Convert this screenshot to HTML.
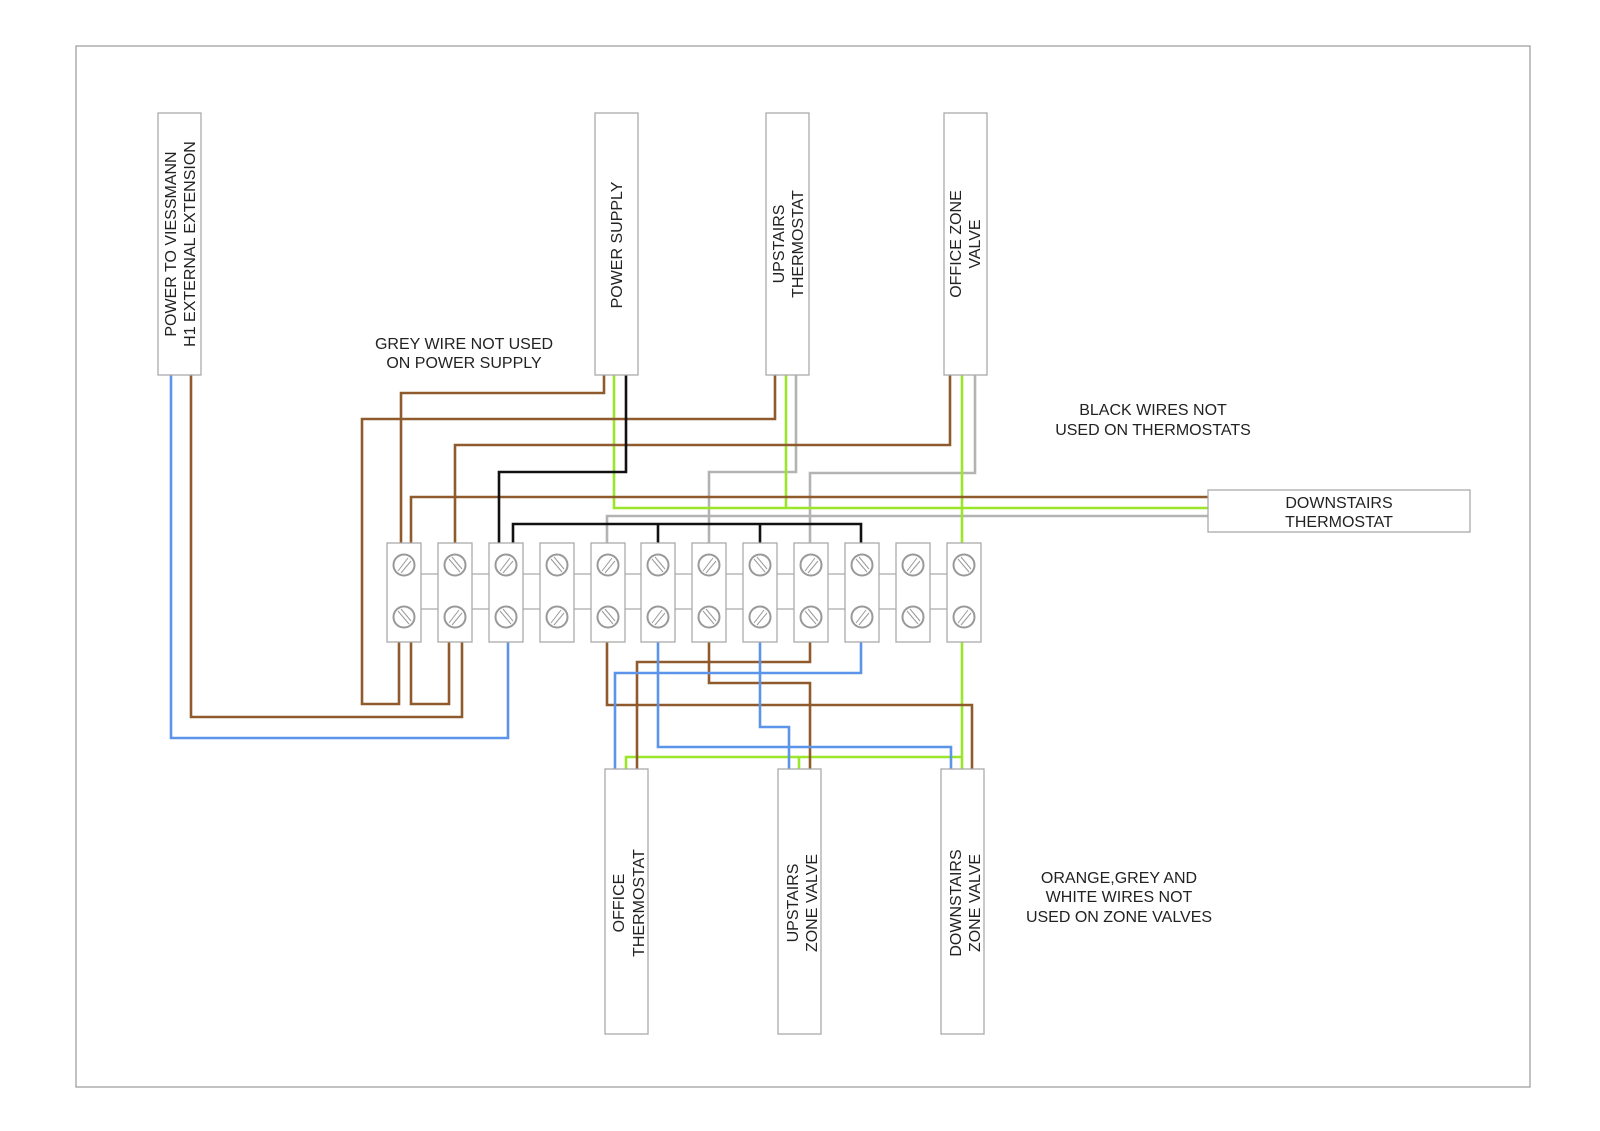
<!DOCTYPE html>
<html><head><meta charset="utf-8"><style>
html,body{margin:0;padding:0;background:#fff;}
svg{display:block;}
text{font-family:"Liberation Sans",sans-serif;font-size:16px;fill:#222;}
</style></head><body>
<svg width="1600" height="1131" viewBox="0 0 1600 1131" xmlns="http://www.w3.org/2000/svg">
<rect x="76" y="46" width="1454" height="1041" fill="none" stroke="#999" stroke-width="1.2"/>

<g fill="none" stroke-width="2.6" stroke-linejoin="miter">
<g stroke="#b3b3b3">
<polyline points="796,375 796,472 709,472 709,543"/>
<polyline points="975,375 975,473 810,473 810,543"/>
<polyline points="1208,516 607,516 607,543"/>
</g>
<g stroke="#99e62a">
<polyline points="614,375 614,508 1208,508"/>
<polyline points="786,375 786,508"/>
<polyline points="962,375 962,543"/>
<polyline points="962,642 962,757 626,757 626,769"/>
<polyline points="799,757 799,769"/>
<polyline points="962,757 962,769"/>
</g>
<g stroke="#8f5b2c">
<polyline points="604,375 604,393 401,393 401,543"/>
<polyline points="775,375 775,419 362,419 362,704 399,704 399,642"/>
<polyline points="950,375 950,445 455,445 455,543"/>
<polyline points="1208,497 411,497 411,543"/>
<polyline points="411,642 411,704 449,704 449,642"/>
<polyline points="462,642 462,717 191,717 191,375"/>
<polyline points="607,642 607,705 972,705 972,769"/>
<polyline points="709,642 709,683 810,683 810,769"/>
<polyline points="810,642 810,662 637,662 637,769"/>
</g>
<g stroke="#5b94e8">
<polyline points="171,375 171,738 508,738 508,642"/>
<polyline points="658,642 658,747 951,747 951,769"/>
<polyline points="760,642 760,727 789,727 789,769"/>
<polyline points="861,642 861,673 615,673 615,769"/>
</g>
<g stroke="#111">
<polyline points="626,375 626,472 499,472 499,543"/>
<polyline points="513,543 513,524 861,524 861,543"/>
<line x1="658" y1="524" x2="658" y2="543"/>
<line x1="760" y1="524" x2="760" y2="543"/>
</g>
</g>

<g stroke="#aaa" stroke-width="1.2">
<line x1="421" y1="574" x2="948" y2="574"/>
<line x1="421" y1="609" x2="948" y2="609"/>
</g>
<g stroke="#aaa" stroke-width="1.3" fill="#fff">
<rect x="387" y="543" width="34" height="99"/>
<rect x="438" y="543" width="34" height="99"/>
<rect x="489" y="543" width="34" height="99"/>
<rect x="540" y="543" width="34" height="99"/>
<rect x="591" y="543" width="34" height="99"/>
<rect x="641" y="543" width="34" height="99"/>
<rect x="692" y="543" width="34" height="99"/>
<rect x="743" y="543" width="34" height="99"/>
<rect x="794" y="543" width="34" height="99"/>
<rect x="845" y="543" width="34" height="99"/>
<rect x="896" y="543" width="34" height="99"/>
<rect x="947" y="543" width="34" height="99"/>
</g>
<defs>
<g id="fs"><circle cx="0" cy="0" r="10.5" stroke-width="2"/><path d="M-6,6 L4,-7 M-3,8 L7,-4" stroke-width="1"/></g>
<g id="bs"><circle cx="0" cy="0" r="10.5" stroke-width="2"/><path d="M-6,-6 L5,7 M-3,-8 L7,4" stroke-width="1"/></g>
<g id="sa"><use href="#fs" y="565"/><use href="#bs" y="617"/></g>
<g id="sb"><use href="#bs" y="565"/><use href="#fs" y="617"/></g>
</defs>
<g stroke="#999" fill="none">
<use href="#sa" x="404"/><use href="#sb" x="455"/><use href="#sa" x="506"/><use href="#sb" x="557"/><use href="#sa" x="608"/><use href="#sb" x="658"/><use href="#sa" x="709"/><use href="#sb" x="760"/><use href="#sa" x="811"/><use href="#sb" x="862"/><use href="#sa" x="913"/><use href="#sb" x="964"/>
</g>

<g stroke="#aaa" stroke-width="1.3" fill="#fff">
<rect x="158" y="113" width="43" height="262"/>
<rect x="595" y="113" width="43" height="262"/>
<rect x="766" y="113" width="43" height="262"/>
<rect x="944" y="113" width="43" height="262"/>
<rect x="1208" y="490" width="262" height="42"/>
<rect x="605" y="769" width="43" height="265"/>
<rect x="778" y="769" width="43" height="265"/>
<rect x="941" y="769" width="43" height="265"/>
</g>

<g text-anchor="middle">
<text transform="translate(176,244) rotate(-90)">POWER TO VIESSMANN</text>
<text transform="translate(195,244) rotate(-90)">H1 EXTERNAL EXTENSION</text>
<text transform="translate(622,245) rotate(-90)">POWER SUPPLY</text>
<text transform="translate(784,244) rotate(-90)">UPSTAIRS</text>
<text transform="translate(803,244) rotate(-90)">THERMOSTAT</text>
<text transform="translate(961,244) rotate(-90)">OFFICE ZONE</text>
<text transform="translate(980,244) rotate(-90)">VALVE</text>
<text transform="translate(624,903) rotate(-90)">OFFICE</text>
<text transform="translate(644,903) rotate(-90)">THERMOSTAT</text>
<text transform="translate(798,903) rotate(-90)">UPSTAIRS</text>
<text transform="translate(817,903) rotate(-90)">ZONE VALVE</text>
<text transform="translate(961,903) rotate(-90)">DOWNSTAIRS</text>
<text transform="translate(980,903) rotate(-90)">ZONE VALVE</text>
<text x="1339" y="508">DOWNSTAIRS</text>
<text x="1339" y="527">THERMOSTAT</text>
<text x="464" y="349">GREY WIRE NOT USED</text>
<text x="464" y="368">ON POWER SUPPLY</text>
<text x="1153" y="415">BLACK WIRES NOT</text>
<text x="1153" y="435">USED ON THERMOSTATS</text>
<text x="1119" y="883">ORANGE,GREY AND</text>
<text x="1119" y="902">WHITE WIRES NOT</text>
<text x="1119" y="922">USED ON ZONE VALVES</text>
</g>
</svg>
</body></html>
